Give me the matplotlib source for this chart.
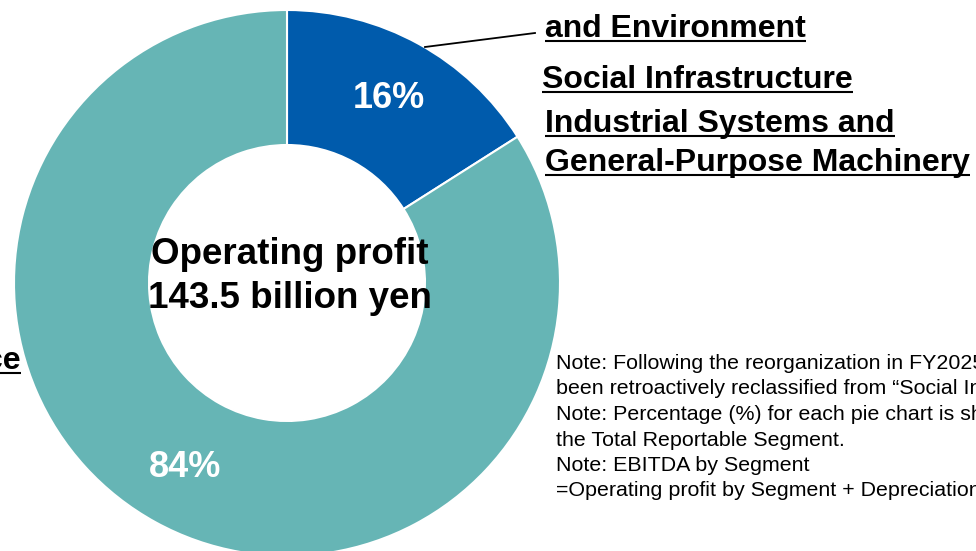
import numpy as np
import matplotlib.pyplot as plt

plt.rcParams['font.family'] = ['Liberation Sans', 'DejaVu Sans']

W, H = 976, 551

# segment shares of operating profit (%)
segments = ['Social Infrastructure and Environment',
            'Industrial Systems and General-Purpose Machinery']
shares = [16, 84]
colors = ['#005BAC', '#66B5B5']

total_lines = ['Operating profit', '143.5 billion yen']

note_lines = [
    'Note: Following the reorganization in FY2025, figures for the previous fiscal year have',
    'been retroactively reclassified from \u201cSocial Infrastructure and Environment\u201d.',
    'Note: Percentage (%) for each pie chart is shown as a ratio to',
    'the Total Reportable Segment.',
    'Note: EBITDA by Segment',
    '=Operating profit by Segment + Depreciation',
]

# segment captions: (text, x, baseline y, alignment), pixel coords from top-left
captions = [
    ('and Environment', 545, 37, 'left'),
    ('Social Infrastructure', 542, 88, 'left'),
    ('Industrial Systems and', 545, 132, 'left'),
    ('General-Purpose Machinery', 545, 171, 'left'),
    ('Electronic Devices and Service', 21, 369, 'right'),
]

cx, cy = 287, 283
r_out, r_in = 273, 138

fig = plt.figure(figsize=(W / 100, H / 100), dpi=100)
ax = fig.add_axes([0, 0, 1, 1])

wedges, _ = ax.pie(shares, colors=colors, startangle=90, counterclock=False,
                   center=(cx, H - cy), radius=r_out,
                   wedgeprops=dict(width=r_out - r_in, edgecolor='white', linewidth=1.5))

# percentage labels inside each ring segment
for w, v in zip(wedges, shares):
    th = np.deg2rad((w.theta1 + w.theta2) / 2)
    ax.text(cx + 211 * np.cos(th), H - cy + 211 * np.sin(th), f'{v}%',
            ha='center', va='center', color='white', fontsize=26, fontweight='bold')

# total in the middle of the ring
for i, s in enumerate(total_lines):
    ax.text(290, H - (264 + 44 * i), s, ha='center', va='baseline',
            fontsize=26.5, fontweight='bold', color='black')

# leader line to the first caption
ax.plot([425, 535], [H - 47, H - 33], color='black', lw=1.3)

cap_texts = []
for s, x, y, ha in captions:
    t = ax.text(x, H - y, s, ha=ha, va='baseline', fontsize=23,
                fontweight='bold', color='black')
    cap_texts.append((t, H - y))

for i, s in enumerate(note_lines):
    ax.text(556, H - (369 + 25.5 * i), s, ha='left', va='baseline',
            fontsize=15.4, color='black')

ax.set_xlim(0, W)
ax.set_ylim(0, H)
ax.set_aspect('equal')
ax.axis('off')

# underline the captions
fig.canvas.draw()
renderer = fig.canvas.get_renderer()
for t, base in cap_texts:
    bb = t.get_window_extent(renderer)
    ax.plot([bb.x0, bb.x1], [base - 4, base - 4], color='black', lw=1.5,
            solid_capstyle='butt')

ax.set_xlim(0, W)
ax.set_ylim(0, H)
fig.savefig('out.png', dpi=100)
